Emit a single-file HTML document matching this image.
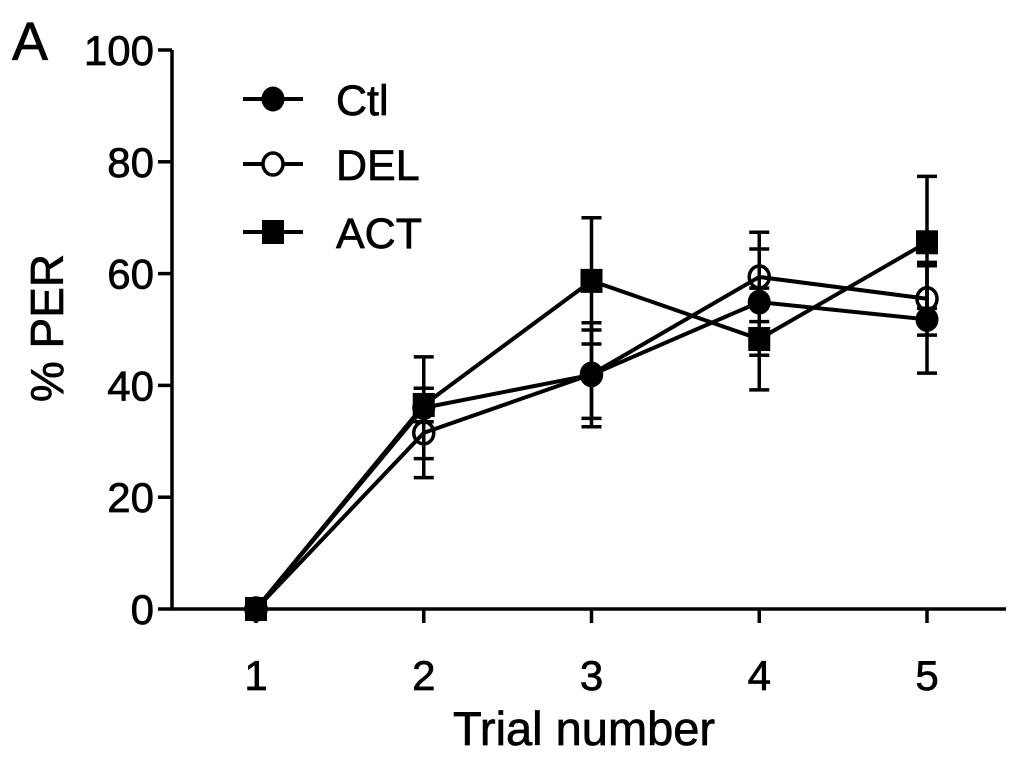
<!DOCTYPE html>
<html><head><meta charset="utf-8"><style>
body{margin:0;background:#fff}
svg{display:block;font-family:"Liberation Sans",Arial,sans-serif}
text{stroke:#000;stroke-width:0.7px}
</style></head><body>
<svg id="chart" width="1024" height="763" viewBox="0 0 1024 763">
<text x="12" y="60" font-size="54">A</text>
<g id="axes"></g>
<g id="plot"></g>
<g id="legend"></g>
<text x="584" y="745" font-size="47" text-anchor="middle">Trial number</text>
<text transform="translate(63,328) rotate(-90)" font-size="46" text-anchor="middle">% PER</text>
</svg>
<script>
const categories=[1,2,3,4,5];
const yTicks=[0,20,40,60,80,100];
const seriesNames=["Ctl","DEL","ACT"];
const ctlValues=[0,36,41.9,54.9,51.8];
const ctlErrors=[0,9.1,9.3,9.5,9.6];
const delValues=[0,31.5,42,59.4,55.5];
const delErrors=[0,8,7.9,8,6.5];
const actValues=[0,36.5,58.7,48.3,65.6];
const actErrors=[0,3,11.3,9.1,11.8];

const NS="http://www.w3.org/2000/svg";
const x0=172,y0=609,yPx=5.59,xStart=256,xStep=167.75;
const xs=c=>xStart+(c-1)*xStep;
const ys=v=>y0-v*yPx;
function mk(tag,attrs,parent){const e=document.createElementNS(NS,tag);for(const k in attrs)e.setAttribute(k,attrs[k]);parent.appendChild(e);return e;}
const axes=document.getElementById('axes'),plot=document.getElementById('plot'),legend=document.getElementById('legend');

let yl=mk('line',{x1:x0,y1:ys(100),x2:x0,y2:y0,stroke:'#000','stroke-width':3.5},axes);


let xl=mk('line',{x1:x0-1.5,y1:y0,x2:1006,y2:y0,stroke:'#000','stroke-width':3.5},axes);


yTicks.forEach(t=>{
  let tk=mk('line',{x1:x0-14,y1:ys(t),x2:x0,y2:ys(t),stroke:'#000','stroke-width':3.5},axes);
  
  
  let tl=mk('text',{x:x0-18,y:ys(t)+15,'font-size':42,'text-anchor':'end'},axes);
  tl.textContent=t;
  
  
});
categories.forEach(c=>{
  let tk=mk('line',{x1:xs(c),y1:y0,x2:xs(c),y2:y0+14,stroke:'#000','stroke-width':3.5},axes);
  
  
  let tl=mk('text',{x:xs(c),y:y0+81,'font-size':42,'text-anchor':'middle'},axes);
  tl.textContent=c;
  
  
});

function marker(type,cx,cy,parent){
  let m;
  if(type==='square') m=mk('rect',{x:cx-11,y:cy-12,width:22,height:24,fill:'#000'},parent);
  else if(type==='open') m=mk('ellipse',{cx:cx,cy:cy,rx:10,ry:11,fill:'#fff','fill-opacity':0,stroke:'#000','stroke-width':3.5},parent);
  else m=mk('ellipse',{cx:cx,cy:cy,rx:11.5,ry:12.5,fill:'#000'},parent);
  return m;
}
const series=[[ctlValues,ctlErrors,'filled'],[delValues,delErrors,'open'],[actValues,actErrors,'square']];
series.forEach((s,si)=>{
  const g=mk('g',{},plot);
  
  
  s[0].forEach((v,i)=>{
    if(s[1][i]>0){
      const e=mk('path',{d:`M${xs(categories[i])},${ys(v+s[1][i])}V${ys(v-s[1][i])}M${xs(categories[i])-10},${ys(v+s[1][i])}h20M${xs(categories[i])-10},${ys(v-s[1][i])}h20`,stroke:'#000','stroke-width':3.5,fill:'none'},g);
      
      
    }
  });
  const pl=mk('polyline',{points:s[0].map((v,i)=>xs(categories[i])+','+ys(v)).join(' '),fill:'none',stroke:'#000','stroke-width':4},g);
  
  
  s[0].forEach((v,i)=>{
    const m=marker(s[2],xs(categories[i]),ys(v),g);
    
    
  });
});

const legY=[99,164,232];
seriesNames.forEach((n,i)=>{
  const g=mk('g',{},legend);
  
  
  mk('line',{x1:243,y1:legY[i],x2:303,y2:legY[i],stroke:'#000','stroke-width':4},g);
  const m=marker(series[i][2],273,legY[i],g);
  if(series[i][2]==='open') m.setAttribute('fill-opacity','1');
  const t=mk('text',{x:336,y:legY[i]+16,'font-size':43},g);
  t.textContent=n;
});
</script>
</body></html>
